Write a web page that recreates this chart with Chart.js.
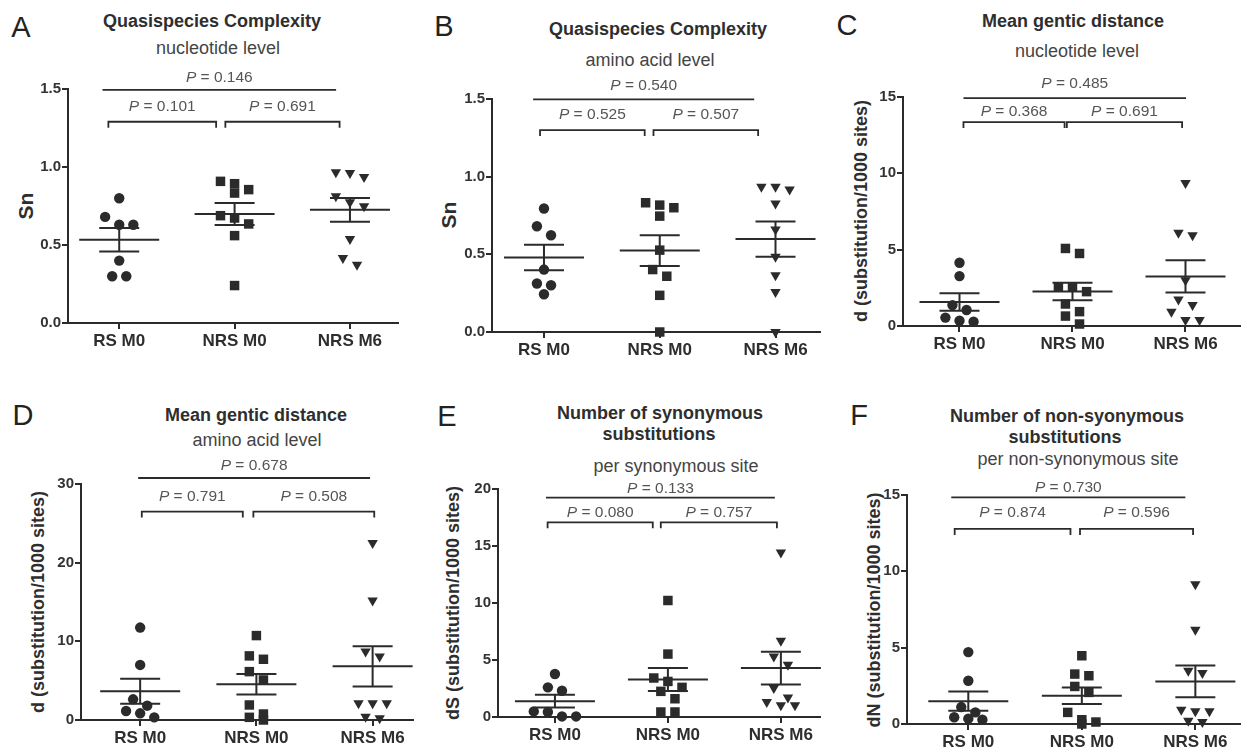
<!DOCTYPE html>
<html>
<head>
<meta charset="utf-8">
<script src="https://cdn.jsdelivr.net/npm/chart.js@4.4.1/dist/chart.umd.min.js"></script>
<style>
  body { margin: 0; background: #fff; font-family: "Liberation Sans", Arial, sans-serif; }
  #fig { position: relative; width: 1247px; height: 753px; overflow: hidden; background: #fff; }
  #fig canvas { position: absolute; }
  .lbl { position: absolute; transform: translate(-50%, -50%); white-space: nowrap; line-height: 1; color: #2e2e2e; }
  .letter { font-size: 29px; color: #222; }
  .ttl { font-size: 18px; font-weight: bold; }
  .sub { font-size: 18px; color: #444; }
  .ytl { font-weight: bold; transform: translate(-50%, -50%) rotate(-90deg); }
</style>
</head>
<body>
<div id="fig"></div>
<script>
// groups on the x axis
const groups = ['RS M0', 'NRS M0', 'NRS M6'];

// A - Sn, nucleotide level
const aRS   = [0.80, 0.68, 0.63, 0.63, 0.40, 0.30, 0.30];
const aNRS0 = [0.908, 0.893, 0.855, 0.833, 0.688, 0.673, 0.635, 0.56, 0.24];
const aNRS6 = [0.966, 0.962, 0.936, 0.812, 0.774, 0.748, 0.538, 0.417, 0.374];

// B - Sn, amino acid level
const bRS   = [0.795, 0.681, 0.623, 0.402, 0.312, 0.301, 0.243];
const bNRS0 = [0.832, 0.817, 0.80, 0.746, 0.527, 0.402, 0.359, 0.236, 0.0];
const bNRS6 = [0.935, 0.935, 0.918, 0.827, 0.66, 0.484, 0.365, 0.258, 0.0];

// C - mean genetic distance, nucleotide level
const cRS   = [4.14, 3.27, 1.37, 1.05, 0.55, 0.35, 0.28];
const cNRS0 = [5.08, 4.75, 2.57, 2.57, 2.25, 1.44, 0.94, 0.65, 0.13];
const cNRS6 = [9.37, 6.10, 5.95, 3.0, 1.74, 1.37, 0.94, 0.39, 0.39];

// D - mean genetic distance, amino acid level
const dRS   = [11.75, 7.0, 2.63, 1.82, 1.15, 0.85, 0.34];
const dNRS0 = [10.73, 8.15, 7.72, 6.15, 5.09, 1.91, 0.76, 0.34, 0.0];
const dNRS6 = [22.5, 15.2, 8.7, 8.06, 2.12, 2.12, 2.12, 0.42, 0.21];

// E - dS
const eRS   = [3.77, 2.6, 2.3, 0.49, 0.44, 0.05, 0.05];
const eNRS0 = [10.22, 5.52, 3.42, 3.12, 2.6, 2.25, 1.6, 0.44, 0.44];
const eNRS6 = [14.42, 6.69, 5.31, 4.58, 2.54, 1.72, 1.31, 1.02, 1.02];

// F - dN
const fRS   = [4.71, 2.83, 1.11, 0.76, 0.44, 0.35, 0.28];
const fNRS0 = [4.47, 3.27, 3.16, 2.46, 2.07, 0.76, 0.28, 0.13, 0.0];
const fNRS6 = [9.16, 6.17, 3.49, 3.34, 0.94, 0.83, 0.83, 0.22, 0.13];

// p values: all three groups, RS M0 vs NRS M0, NRS M0 vs NRS M6
const pAll   = ['0.146', '0.540', '0.485', '0.678', '0.133', '0.730'];
const pLeft  = ['0.101', '0.525', '0.368', '0.791', '0.080', '0.874'];
const pRight = ['0.691', '0.507', '0.691', '0.508', '0.757', '0.596'];

const INK = '#2b2b2b';
const FONT = '"Liberation Sans", Arial, sans-serif';

const panels = [
  { letter: 'A', letterAt: [21, 27],
    titles: [['Quasispecies Complexity', 212, 21]], subs: [['nucleotide level', 218, 48]],
    yTitle: 'Sn', yTitleAt: [25, 206], yTitleSize: 21,
    box: { l: 68, t: 89.3, r: 403, b: 323.3 }, xMin: -0.444, xMax: 2.419,
    yMax: 1.5, yStep: 0.5, dec: 1, data: [aRS, aNRS0, aNRS6],
    top: { y: 1.494, x0: -0.145, x1: 1.88, gap: 7.5 },
    left: { y: 1.29, x0: -0.094, x1: 0.84 }, right: { y: 1.29, x0: 0.92, x1: 1.91 }, brGap: 10.5 },
  { letter: 'B', letterAt: [444, 26],
    titles: [['Quasispecies Complexity', 658, 29]], subs: [['amino acid level', 650, 60]],
    yTitle: 'Sn', yTitleAt: [448, 215], yTitleSize: 21,
    box: { l: 492.3, t: 99, r: 825, b: 331.7 }, xMin: -0.449, xMax: 2.387,
    yMax: 1.5, yStep: 0.5, dec: 1, data: [bRS, bNRS0, bNRS6],
    top: { y: 1.498, x0: -0.094, x1: 1.816, gap: 9.5 },
    left: { y: 1.30, x0: -0.034, x1: 0.87 }, right: { y: 1.30, x0: 0.946, x1: 1.85 }, brGap: 11.5 },
  { letter: 'C', letterAt: [847, 25],
    titles: [['Mean gentic distance', 1073, 21]], subs: [['nucleotide level', 1077, 51]],
    yTitle: 'd (substitution/1000 sites)', yTitleAt: [861, 211], yTitleSize: 18,
    box: { l: 902.7, t: 96.7, r: 1245, b: 326 }, xMin: -0.5, xMax: 2.485,
    yMax: 15, yStep: 5, dec: 0, data: [cRS, cNRS0, cNRS6],
    top: { y: 14.93, x0: 0.035, x1: 2.005, gap: 10.5 },
    left: { y: 13.36, x0: 0.035, x1: 0.93 }, right: { y: 13.36, x0: 0.95, x1: 1.97 }, brGap: 6 },
  { letter: 'D', letterAt: [23, 415],
    titles: [['Mean gentic distance', 256, 415]], subs: [['amino acid level', 257, 440]],
    yTitle: 'd (substitution/1000 sites)', yTitleAt: [38, 602], yTitleSize: 18,
    box: { l: 81, t: 484.3, r: 418, b: 720 }, xMin: -0.509, xMax: 2.35,
    yMax: 30, yStep: 10, dec: 0, data: [dRS, dNRS0, dNRS6],
    top: { y: 30.76, x0: -0.017, x1: 1.978, gap: 8.5 },
    left: { y: 26.5, x0: 0.014, x1: 0.883 }, right: { y: 26.5, x0: 0.974, x1: 2.014 }, brGap: 10.5 },
  { letter: 'E', letterAt: [447, 416],
    titles: [['Number of synonymous', 660, 413], ['substitutions', 659, 434]], subs: [['per synonymous site', 676, 466]],
    yTitle: 'dS (substitution/1000 sites)', yTitleAt: [453, 603], yTitleSize: 18,
    box: { l: 498.3, t: 489, r: 825, b: 717.3 }, xMin: -0.504, xMax: 2.349,
    yMax: 20, yStep: 5, dec: 0, data: [eRS, eNRS0, eNRS6],
    top: { y: 19.24, x0: -0.079, x1: 1.947, gap: 4.5 },
    left: { y: 17.08, x0: -0.065, x1: 0.866 }, right: { y: 17.08, x0: 0.937, x1: 1.965 }, brGap: 5.5 },
  { letter: 'F', letterAt: [859, 415],
    titles: [['Number of non-syonymous', 1067, 416], ['substitutions', 1065, 437]], subs: [['per non-synonymous site', 1078, 459]],
    yTitle: 'dN (substitution/1000 sites)', yTitleAt: [874, 610], yTitleSize: 18,
    box: { l: 906.7, t: 495, r: 1245, b: 724.3 }, xMin: -0.54, xMax: 2.396,
    yMax: 15, yStep: 5, dec: 0, data: [fRS, fNRS0, fNRS6],
    top: { y: 14.85, x0: -0.15, x1: 1.912, gap: 5.5 },
    left: { y: 12.78, x0: -0.12, x1: 0.9 }, right: { y: 12.78, x0: 0.984, x1: 1.98 }, brGap: 11.5 }
];

const markers = [
  { style: 'circle', radius: 5.2, rotation: 0 },
  { style: 'rect', radius: 6.7, rotation: 0 },
  { style: 'triangle', radius: 6, rotation: 180 }
];

// mean and standard error of the mean
function stats(v) {
  const n = v.length;
  const m = v.reduce((a, b) => a + b, 0) / n;
  const sd = Math.sqrt(v.reduce((a, b) => a + (b - m) ** 2, 0) / (n - 1));
  return { m, se: sd / Math.sqrt(n) };
}

// column scatter like Prism: close values share a row, centred on the group
function spread(vals, g, dx, thr) {
  const s = [...vals].sort((a, b) => b - a);
  const pts = [];
  let i = 0;
  while (i < s.length) {
    let j = i + 1;
    while (j < s.length && s[i] - s[j] < thr) j++;
    const n = j - i;
    for (let k = 0; k < n; k++) pts.push({ x: g + (k - (n - 1) / 2) * dx, y: s[i + k] });
    i = j;
  }
  return pts;
}

function pText(ctx, val, cx, by) {
  const fi = 'italic 15.5px ' + FONT, fn = '15.5px ' + FONT;
  const rest = ' = ' + val;
  ctx.font = fi; const w1 = ctx.measureText('P').width;
  ctx.font = fn; const w2 = ctx.measureText(rest).width;
  const sx = cx - (w1 + w2) / 2;
  ctx.fillStyle = '#555';
  ctx.textAlign = 'left';
  ctx.textBaseline = 'alphabetic';
  ctx.font = fi; ctx.fillText('P', sx, by);
  ctx.font = fn; ctx.fillText(rest, sx + w1, by);
}

const overlay = {
  id: 'overlay',
  afterDatasetsDraw(chart, args, o) {
    const { ctx, scales: { x, y } } = chart;
    const p = o.panel;
    ctx.save();
    ctx.strokeStyle = INK;
    ctx.lineWidth = 2;
    // mean +/- SEM
    p.data.forEach((vals, g) => {
      const s = stats(vals);
      const cx = x.getPixelForValue(g);
      const ym = y.getPixelForValue(s.m);
      const yt = y.getPixelForValue(s.m + s.se);
      const yb = y.getPixelForValue(s.m - s.se);
      ctx.beginPath();
      ctx.moveTo(cx - 40, ym); ctx.lineTo(cx + 40, ym);
      ctx.moveTo(cx - 20, yt); ctx.lineTo(cx + 20, yt);
      ctx.moveTo(cx - 20, yb); ctx.lineTo(cx + 20, yb);
      ctx.moveTo(cx, yt); ctx.lineTo(cx, yb);
      ctx.stroke();
    });
    // significance lines
    ctx.lineWidth = 1.8;
    const drawBar = (b, label, gap, tick) => {
      const x0 = x.getPixelForValue(b.x0), x1 = x.getPixelForValue(b.x1);
      const yy = y.getPixelForValue(b.y);
      ctx.beginPath();
      if (tick) {
        ctx.moveTo(x0, yy + 6); ctx.lineTo(x0, yy); ctx.lineTo(x1, yy); ctx.lineTo(x1, yy + 6);
      } else {
        ctx.moveTo(x0, yy); ctx.lineTo(x1, yy);
      }
      ctx.stroke();
      pText(ctx, label, (x0 + x1) / 2, yy - gap);
    };
    drawBar(p.top, pAll[o.idx], p.top.gap, false);
    drawBar(p.left, pLeft[o.idx], p.brGap, true);
    drawBar(p.right, pRight[o.idx], p.brGap, true);
    ctx.restore();
  }
};

const fig = document.getElementById('fig');

function addLabel(text, x, y, cls, extra) {
  const d = document.createElement('div');
  d.className = 'lbl ' + cls;
  d.textContent = text;
  d.style.left = x + 'px';
  d.style.top = y + 'px';
  if (extra) Object.assign(d.style, extra);
  fig.appendChild(d);
}

const YW = 44, XH = 36, PT = 60, PR = 2;

panels.forEach((p, idx) => {
  const { l, t, r, b } = p.box;
  addLabel(p.letter, p.letterAt[0], p.letterAt[1], 'letter');
  p.titles.forEach(([s, x, y]) => addLabel(s, x, y, 'ttl'));
  p.subs.forEach(([s, x, y]) => addLabel(s, x, y, 'sub'));
  addLabel(p.yTitle, p.yTitleAt[0], p.yTitleAt[1], 'ytl', { fontSize: p.yTitleSize + 'px' });

  const cv = document.createElement('canvas');
  const w = Math.round(r - l + YW + PR), h = Math.round(b - t + PT + XH);
  cv.width = w; cv.height = h;
  cv.style.left = (l - YW) + 'px';
  cv.style.top = (t - PT) + 'px';
  fig.appendChild(cv);

  const sp = (r - l) / (p.xMax - p.xMin);     // px per group
  const dx = 14.3 / sp;                        // horizontal step between points
  const thr = 10 * p.yMax / (b - t);           // values closer than ~10px share a row

  const datasets = p.data.map((vals, g) => ({
    data: spread(vals, g, dx, thr),
    pointStyle: markers[g].style,
    pointRadius: markers[g].radius,
    rotation: markers[g].rotation,
    pointBackgroundColor: INK,
    pointBorderWidth: 0,
    showLine: false,
    clip: false
  }));

  new Chart(cv.getContext('2d'), {
    type: 'scatter',
    data: { datasets },
    options: {
      responsive: false,
      animation: false,
      devicePixelRatio: 1,
      events: [],
      layout: { padding: { left: 0, top: PT, right: PR, bottom: 0 } },
      plugins: { legend: { display: false }, tooltip: { enabled: false }, overlay: { panel: p, idx } },
      scales: {
        x: {
          type: 'linear', min: p.xMin, max: p.xMax,
          afterBuildTicks: s => { s.ticks = groups.map((_, i) => ({ value: i })); },
          afterFit: s => { s.height = XH; },
          ticks: {
            autoSkip: false, maxRotation: 0, padding: 2, color: '#2e2e2e',
            font: { family: FONT, size: 17, weight: 'bold' },
            callback: v => groups[Math.round(v)]
          },
          grid: { drawOnChartArea: false, drawTicks: true, tickLength: 6, color: INK, lineWidth: 2 },
          border: { color: INK, width: 2 }
        },
        y: {
          min: 0, max: p.yMax,
          afterFit: s => { s.width = YW; },
          ticks: {
            stepSize: p.yStep, padding: 1, color: '#333',
            font: { family: FONT, size: 15, weight: 'bold' },
            callback: v => v.toFixed(p.dec)
          },
          grid: { drawOnChartArea: false, drawTicks: true, tickLength: 6, color: INK, lineWidth: 2 },
          border: { color: INK, width: 2 }
        }
      }
    },
    plugins: [overlay]
  });
});
</script>
</body>
</html>
